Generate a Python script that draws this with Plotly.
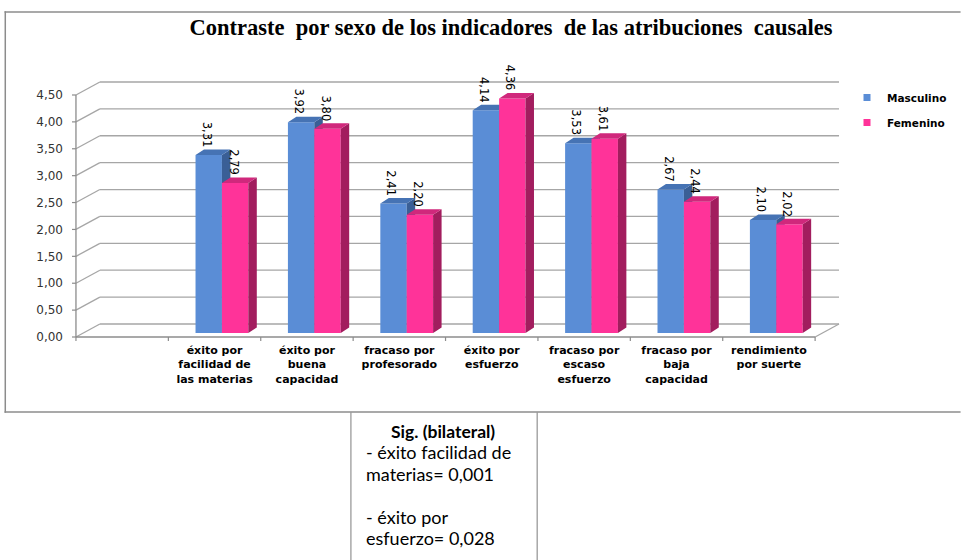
import plotly.graph_objects as go

# ---------------- data ----------------
categories = [
    "éxito por<br>facilidad de<br>las materias",
    "éxito por<br>buena<br>capacidad",
    "fracaso por<br>profesorado",
    "éxito por<br>esfuerzo",
    "fracaso por<br>escaso<br>esfuerzo",
    "fracaso por<br>baja<br>capacidad",
    "rendimiento<br>por suerte",
]
masculino = [3.31, 3.92, 2.41, 4.14, 3.53, 2.67, 2.10]
femenino = [2.79, 3.80, 2.20, 4.36, 3.61, 2.44, 2.02]
y_ticks = [0.0, 0.5, 1.0, 1.5, 2.0, 2.5, 3.0, 3.5, 4.0, 4.5]
y_tick_labels = ["0,00", "0,50", "1,00", "1,50", "2,00", "2,50", "3,00", "3,50", "4,00", "4,50"]
n_slots = 8  # first slot left empty as in the original
xpos = list(range(1, len(categories) + 1))

title = "Contraste\u00a0 por sexo de los indicadores\u00a0 de las atribuciones\u00a0 causales"
box_title = "Sig. (bilateral)"
box_lines = ["- éxito facilidad de", "materias= 0,001", "", "- éxito por", "esfuerzo= 0,028"]

# ---------------- geometry (pixels) ----------------
FIG_W, FIG_H = 964, 560
L, R_PX, T, B_PX = 66, 850, 70, 342
W, H = R_PX - L, B_PX - T
X0_PX, SLOT = 76, 92.75      # front axis pixel, px per category slot
Y0_PX, UNIT = 337, 53.78     # zero line pixel, px per value unit


def dxp(px):
    return px / SLOT


def dyp(px):
    return px / UNIT


def xp(px):
    return (px - L) / W


def yp(py):
    return (B_PX - py) / H


x_rng = [-0.5 - dxp(X0_PX - L), -0.5 + dxp(R_PX - X0_PX)]
y_rng = [-dyp(B_PX - Y0_PX), dyp(Y0_PX - T)]
# bars sit slightly inside the 3D floor
bx_rng = [x_rng[0] - dxp(7.4), x_rng[1] - dxp(7.4)]
by_rng = [y_rng[0] - dyp(4), y_rng[1] - dyp(4)]

DXW, DYW = dxp(24), dyp(13)     # wall depth
BW = dxp(26.5)                  # bar width
DXB, DYB = dxp(8.5), dyp(5.5)   # bar depth

BLUE, BLUE_TOP, BLUE_SIDE = "#5A8DD6", "#4673B4", "#3A5F96"
PINK, PINK_TOP, PINK_SIDE = "#FF3399", "#D0287C", "#A21D5E"
GRID = "#A6A6A6"
AXIS = "#8C8C8C"

fig = go.Figure()


def faces(vals, off):
    tx, ty, sx, sy = [], [], [], []
    for i, v in zip(xpos, vals):
        x0, x1 = i + off, i + off + BW
        tx += [x0, x1, x1 + DXB, x0 + DXB, x0, None]
        ty += [v, v, v + DYB, v + DYB, v, None]
        sx += [x1, x1, x1 + DXB, x1 + DXB, x1, None]
        sy += [0, v, v + DYB, DYB, 0, None]
    return tx, ty, sx, sy


for vals, name, c, ct, cs, off, ax in [
    (masculino, "Masculino", BLUE, BLUE_TOP, BLUE_SIDE, -BW, "2"),
    (femenino, "Femenino", PINK, PINK_TOP, PINK_SIDE, 0.0, "3"),
]:
    fig.add_trace(go.Bar(x=xpos, y=vals, width=BW, offset=off, name=name,
                         marker=dict(color=c, line=dict(width=0)),
                         xaxis="x" + ax, yaxis="y" + ax, showlegend=False))
    tx, ty, sx, sy = faces(vals, off)
    fig.add_trace(go.Scatter(x=sx, y=sy, fill="toself", fillcolor=cs, mode="lines",
                             line=dict(width=0, color=cs), xaxis="x" + ax, yaxis="y" + ax,
                             showlegend=False, hoverinfo="skip"))
    fig.add_trace(go.Scatter(x=tx, y=ty, fill="toself", fillcolor=ct, mode="lines",
                             line=dict(width=0, color=ct), xaxis="x" + ax, yaxis="y" + ax,
                             showlegend=False, hoverinfo="skip"))
    for i, v in zip(xpos, vals):
        fig.add_annotation(x=i + off + BW / 2, y=v + DYB, xref="x" + ax, yref="y" + ax,
                           text=f"{v:.2f}".replace(".", ","), textangle=90,
                           showarrow=False, xanchor="center", yanchor="bottom",
                           xshift=-2, yshift=0,
                           font=dict(family="DejaVu Sans", size=11.5, color="#000"))

# legend entries
for name, c in [("Masculino", BLUE), ("Femenino", PINK)]:
    fig.add_trace(go.Scatter(x=[None], y=[None], mode="markers", name=name,
                             legendgroup=name,
                             marker=dict(symbol="square", size=7, color=c)))

shapes = []
xl, xr = -0.5, -0.5 + n_slots
for v in y_ticks:
    shapes.append(dict(type="line", xref="x", yref="y", x0=xl, y0=v, x1=xl + DXW, y1=v + DYW,
                       line=dict(color=GRID, width=1.3), layer="below"))
    shapes.append(dict(type="line", xref="x", yref="y", x0=xl + DXW, y0=v + DYW, x1=xr + DXW, y1=v + DYW,
                       line=dict(color=GRID, width=1.3), layer="below"))
    shapes.append(dict(type="line", xref="x", yref="y", x0=xl - dxp(4), y0=v, x1=xl, y1=v,
                       line=dict(color=AXIS, width=1.2), layer="below"))
# floor
shapes.append(dict(type="line", xref="x", yref="y", x0=xl, y0=0, x1=xr, y1=0,
                   line=dict(color=AXIS, width=1.3), layer="below"))
shapes.append(dict(type="line", xref="x", yref="y", x0=xr, y0=0, x1=xr + DXW, y1=DYW,
                   line=dict(color=GRID, width=1.3), layer="below"))
shapes.append(dict(type="line", xref="x", yref="y", x0=xl, y0=0, x1=xl, y1=y_ticks[-1],
                   line=dict(color=AXIS, width=1.3), layer="below"))
for k in range(n_slots + 1):
    shapes.append(dict(type="line", xref="x", yref="y", x0=xl + k, y0=0, x1=xl + k, y1=-dyp(4),
                       line=dict(color=AXIS, width=1.2), layer="below"))
# outer chart border (right side runs off the page) as thin filled strips, and the text box
BORDER = "#8C8C8C"
for (ax0, ay0, ax1, ay1) in [(4.3, 11.2, 964, 12.8), (4.3, 411.3, 964, 412.8), (4.3, 11.2, 5.8, 412.8)]:
    shapes.append(dict(type="rect", xref="paper", yref="paper", x0=xp(ax0), y0=yp(ay1),
                       x1=xp(ax1), y1=yp(ay0), fillcolor=BORDER, line=dict(width=0)))
for bx in (352, 539):
    shapes.append(dict(type="rect", xref="paper", yref="paper", x0=xp(bx - 0.65), y0=yp(560),
                       x1=xp(bx + 0.65), y1=yp(412), fillcolor="#9A9A9A", line=dict(width=0)))

fig.add_annotation(xref="paper", yref="paper", x=xp(444), y=yp(431), text=box_title,
                   showarrow=False, xanchor="center", yanchor="middle",
                   font=dict(family="Lato", size=17.5, color="#000", weight="bold"))
for j, line in enumerate(box_lines):
    if line:
        fig.add_annotation(xref="paper", yref="paper", x=xp(365), y=yp(452 + j * 21.6), text=line,
                           showarrow=False, xanchor="left", yanchor="middle",
                           font=dict(family="Lato", size=18, color="#000"))

fig.update_layout(
    width=FIG_W, height=FIG_H,
    margin=dict(l=L, r=FIG_W - R_PX, t=T, b=FIG_H - B_PX, pad=0),
    paper_bgcolor="white", plot_bgcolor="rgba(0,0,0,0)",
    title=dict(text=title, x=511 / FIG_W, xanchor="center", y=1 - 27 / FIG_H,
               yanchor="middle",
               font=dict(family="Liberation Serif", size=22.5, color="#000", weight="bold")),
    barmode="overlay",
    shapes=shapes,
    legend=dict(x=xp(850), y=yp(83), xanchor="left", yanchor="top", bgcolor="rgba(0,0,0,0)",
                font=dict(family="DejaVu Sans", size=10.5, color="#000", weight="bold"),
                tracegroupgap=6, itemwidth=30),
    xaxis=dict(range=x_rng, tickmode="array", tickvals=xpos, ticktext=categories, ticks="",
               showgrid=False, zeroline=False, showline=False, fixedrange=True,
               tickfont=dict(family="DejaVu Sans", size=11, color="#000", weight="bold")),
    yaxis=dict(range=y_rng, tickmode="array", tickvals=y_ticks, ticktext=y_tick_labels, ticks="",
               showgrid=False, zeroline=False, showline=False, fixedrange=True, ticklabelstandoff=2,
               tickfont=dict(family="DejaVu Sans", size=12, color="#333")),
    xaxis2=dict(range=bx_rng, overlaying="x", visible=False, fixedrange=True),
    yaxis2=dict(range=by_rng, overlaying="y", visible=False, fixedrange=True),
    xaxis3=dict(range=bx_rng, overlaying="x", visible=False, fixedrange=True),
    yaxis3=dict(range=by_rng, overlaying="y", visible=False, fixedrange=True),
    showlegend=True,
)

# remove the browser's default page margin so the figure fills the window exactly
fig.write_html("out.html", config={"displayModeBar": False},
               post_script="document.body.style.margin='0';")
